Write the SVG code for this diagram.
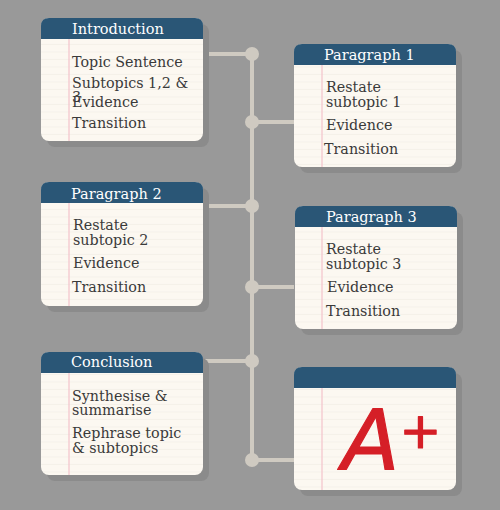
<svg xmlns="http://www.w3.org/2000/svg" width="500" height="510" viewBox="0 0 500 510">
<style>
.shadow{fill:#8b8b8b}
.paper{fill:url(#lines)}
.head{fill:#2a5676}
.margin{stroke:#f3c3cb;stroke-width:1.2}
.ht{font-family:"DejaVu Serif","Liberation Serif",serif;font-size:14.5px;fill:#ffffff}
.bt{font-family:"DejaVu Serif","Liberation Serif",serif;font-size:14.3px;fill:#3a3a3a}
.wire{stroke:#cfcac1;stroke-width:4;fill:none}
.dot{fill:#cfcac1}
</style>
<defs>
<pattern id="lines" patternUnits="userSpaceOnUse" x="0" y="0" width="10" height="7.5">
<rect width="10" height="7.5" fill="#fcf8f1"/>
<line x1="0" y1="7" x2="10" y2="7" stroke="#f4efe7" stroke-width="0.8"/>
</pattern>
</defs>
<rect width="500" height="510" fill="#999999"/>
<g id="connectors">
<line class="wire" x1="252" y1="54" x2="252" y2="460"/>
<line class="wire" x1="203" y1="54" x2="252" y2="54"/>
<line class="wire" x1="252" y1="122" x2="294" y2="122"/>
<line class="wire" x1="203" y1="206" x2="252" y2="206"/>
<line class="wire" x1="252" y1="287" x2="294" y2="287"/>
<line class="wire" x1="203" y1="361" x2="252" y2="361"/>
<line class="wire" x1="252" y1="460" x2="294" y2="460"/>
<circle class="dot" cx="252" cy="54" r="7"/>
<circle class="dot" cx="252" cy="122" r="7"/>
<circle class="dot" cx="252" cy="206" r="7"/>
<circle class="dot" cx="252" cy="287" r="7"/>
<circle class="dot" cx="252" cy="361" r="7"/>
<circle class="dot" cx="252" cy="460" r="7"/>
</g>
<g id="introduction">
<rect class="shadow" x="47" y="24" width="162" height="123" rx="8"/>
<rect class="paper" x="41" y="18" width="162" height="123" rx="8"/>
<path class="head" d="M41,39 V26 Q41,18 49,18 H195 Q203,18 203,26 V39 Z"/>
<line class="margin" x1="69" y1="39" x2="69" y2="141"/>
<text class="ht" x="72" y="34">Introduction</text>
<text class="bt" x="72" y="67">Topic Sentence</text>
<text class="bt" x="72" y="88">Subtopics 1,2 &amp;</text>
<text class="bt" x="72" y="102">3</text>
<text class="bt" x="72" y="107">Evidence</text>
<text class="bt" x="72" y="128">Transition</text>
</g>
<g id="paragraph1">
<rect class="shadow" x="300" y="50" width="162" height="123" rx="8"/>
<rect class="paper" x="294" y="44" width="162" height="123" rx="8"/>
<path class="head" d="M294,65 V52 Q294,44 302,44 H448 Q456,44 456,52 V65 Z"/>
<line class="margin" x1="322" y1="65" x2="322" y2="167"/>
<text class="ht" x="324" y="60">Paragraph 1</text>
<text class="bt" x="326" y="92">Restate</text>
<text class="bt" x="326" y="107">subtopic 1</text>
<text class="bt" x="326" y="130">Evidence</text>
<text class="bt" x="324" y="154">Transition</text>
</g>
<g id="paragraph2">
<rect class="shadow" x="47" y="188" width="162" height="124" rx="8"/>
<rect class="paper" x="41" y="182" width="162" height="124" rx="8"/>
<path class="head" d="M41,203 V190 Q41,182 49,182 H195 Q203,182 203,190 V203 Z"/>
<line class="margin" x1="69" y1="203" x2="69" y2="306"/>
<text class="ht" x="71" y="199">Paragraph 2</text>
<text class="bt" x="73" y="230">Restate</text>
<text class="bt" x="73" y="245">subtopic 2</text>
<text class="bt" x="73" y="268">Evidence</text>
<text class="bt" x="72" y="292">Transition</text>
</g>
<g id="paragraph3">
<rect class="shadow" x="301" y="212" width="162" height="123" rx="8"/>
<rect class="paper" x="295" y="206" width="162" height="123" rx="8"/>
<path class="head" d="M295,227 V214 Q295,206 303,206 H449 Q457,206 457,214 V227 Z"/>
<line class="margin" x1="322" y1="227" x2="322" y2="329"/>
<text class="ht" x="326" y="222">Paragraph 3</text>
<text class="bt" x="326" y="254">Restate</text>
<text class="bt" x="326" y="269">subtopic 3</text>
<text class="bt" x="327" y="292">Evidence</text>
<text class="bt" x="326" y="316">Transition</text>
</g>
<g id="conclusion">
<rect class="shadow" x="47" y="358" width="162" height="123" rx="8"/>
<rect class="paper" x="41" y="352" width="162" height="123" rx="8"/>
<path class="head" d="M41,373 V360 Q41,352 49,352 H195 Q203,352 203,360 V373 Z"/>
<line class="margin" x1="69" y1="373" x2="69" y2="475"/>
<text class="ht" x="71" y="367">Conclusion</text>
<text class="bt" x="72" y="401">Synthesise &amp;</text>
<text class="bt" x="72" y="415">summarise</text>
<text class="bt" x="72" y="438">Rephrase topic</text>
<text class="bt" x="72" y="453">&amp; subtopics</text>
</g>
<g id="grade">
<rect class="shadow" x="300" y="373" width="162" height="123" rx="8"/>
<rect class="paper" x="294" y="367" width="162" height="123" rx="8"/>
<path class="head" d="M294,388 V375 Q294,367 302,367 H448 Q456,367 456,375 V388 Z"/>
<line class="margin" x1="322" y1="388" x2="322" y2="490"/>
<text x="342" y="470" font-family="DejaVu Sans, sans-serif" font-style="italic" font-size="84" fill="#d51f27" stroke="#d51f27" stroke-width="1.2" stroke-linejoin="round">A<tspan font-size="50" dy="-22">+</tspan></text>
</g>
</svg>
